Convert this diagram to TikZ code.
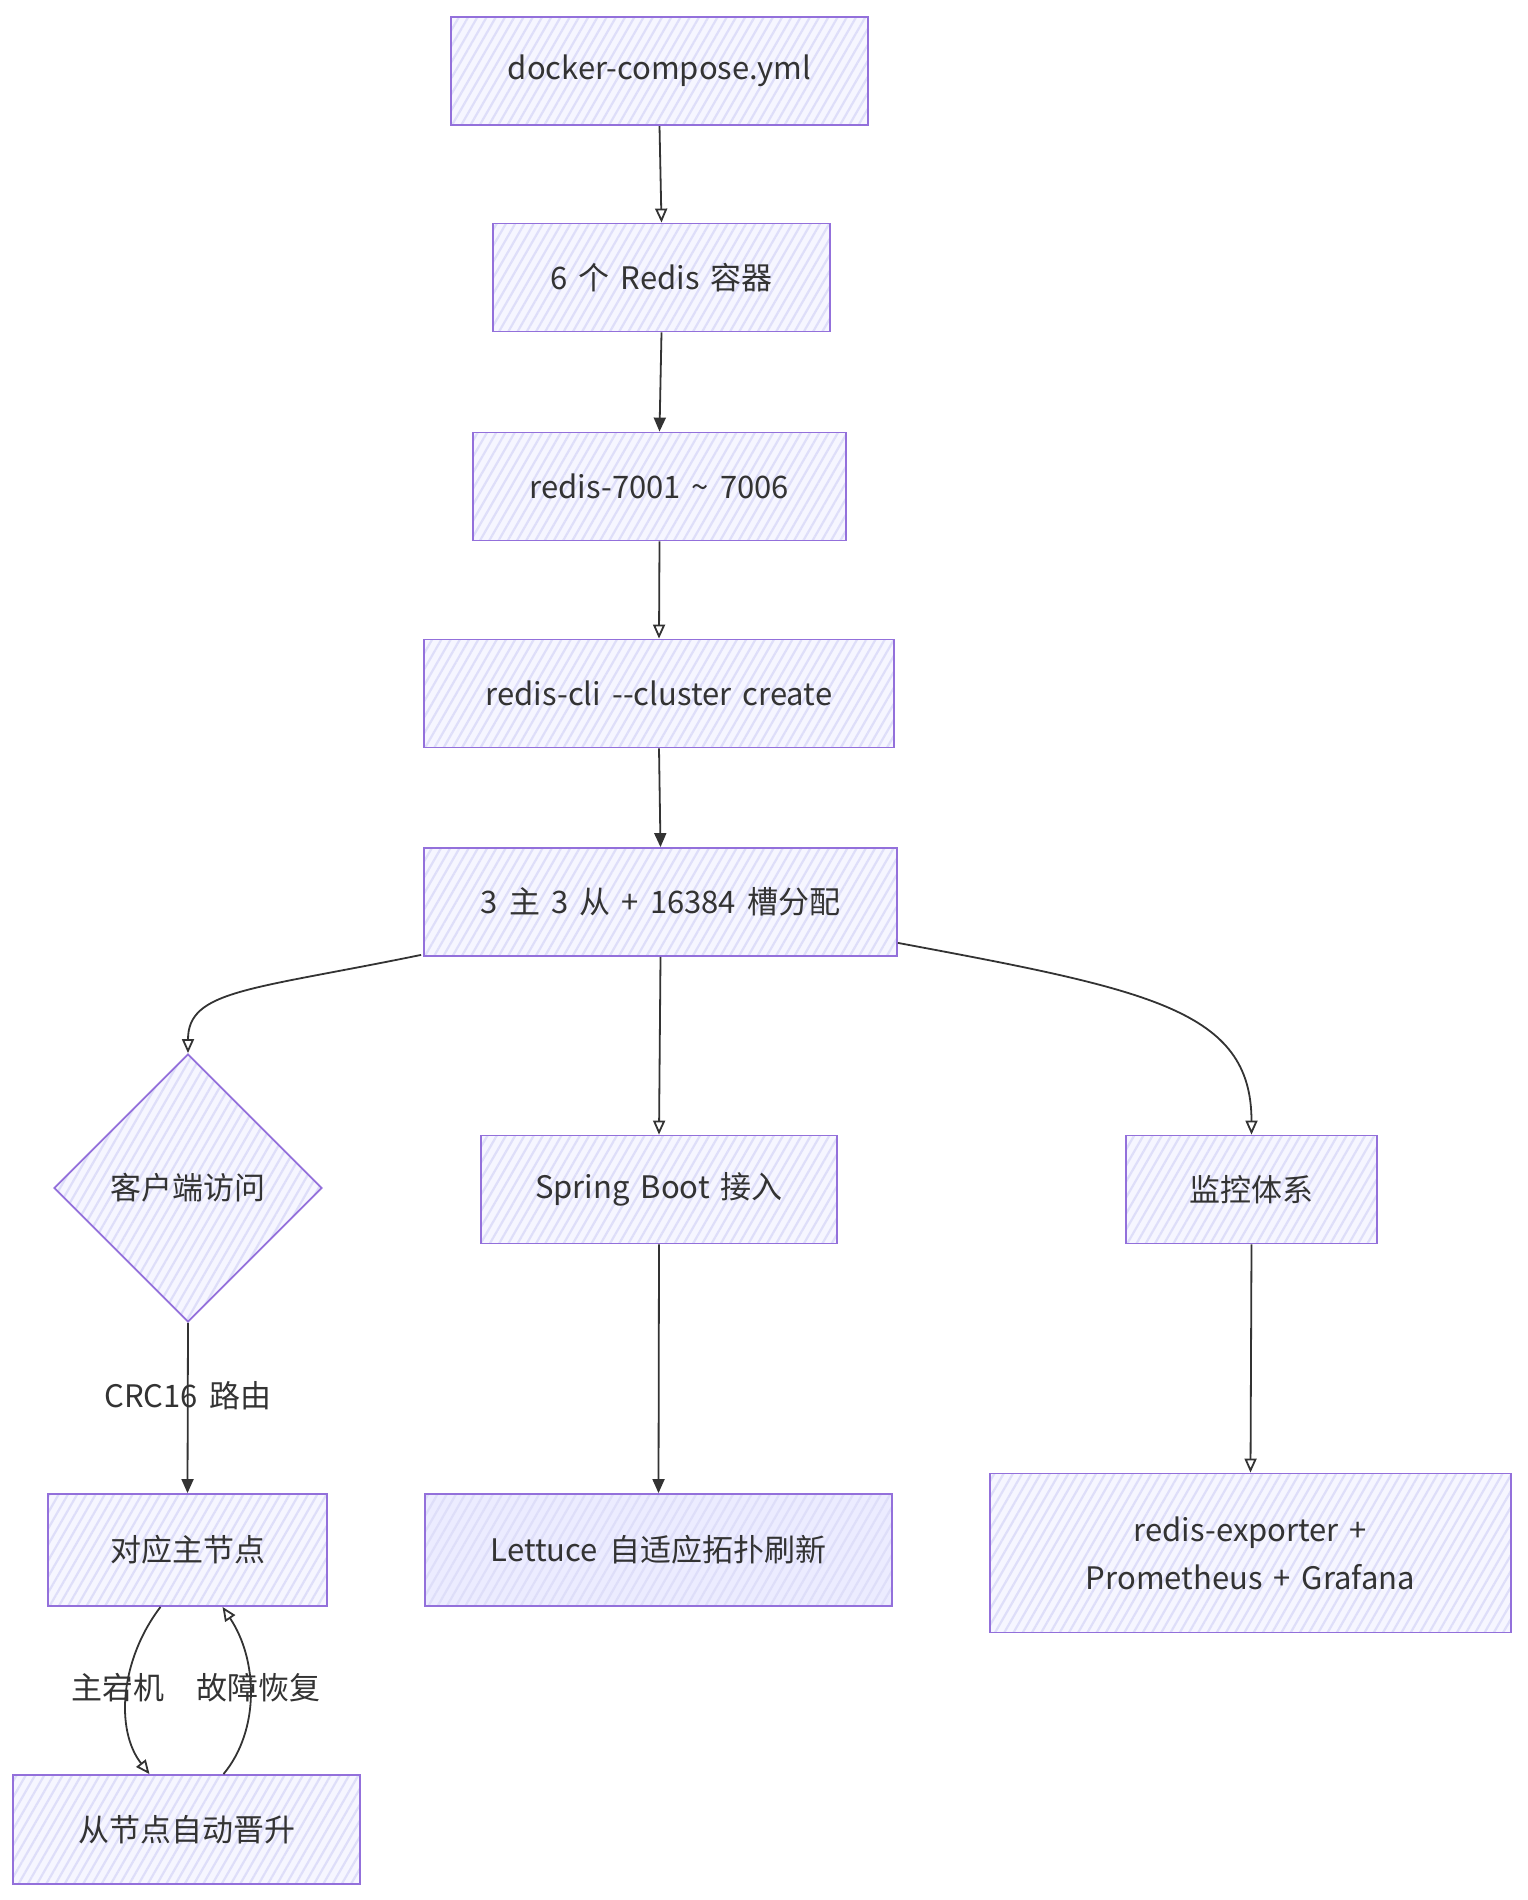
\documentclass[tikz,border=0pt]{standalone}
\usepackage{fontspec}
\setmainfont[WordSpace=1.6]{Noto Sans CJK SC}
\usetikzlibrary{arrows.meta,shapes.geometric,patterns.meta,calc}
\definecolor{lav}{HTML}{ECECFF}
\definecolor{hatch}{HTML}{DEDEF9}
\definecolor{strk}{HTML}{9370DB}
\definecolor{ink}{HTML}{333333}
\begin{document}
\begin{tikzpicture}[x=1pt,y=-1pt,
  font=\fontsize{31}{48}\selectfont,
  box/.style={draw=strk, line width=1.8pt, preaction={fill=lav!45},
    pattern={Lines[angle=60,distance=8pt,line width=2.2pt]}, pattern color=hatch,
    text=ink, minimum height=108pt, inner sep=0pt, align=center},
  dia/.style={box, shape=diamond, aspect=1, minimum width=268pt, minimum height=268pt},
  arr/.style={draw=ink, line width=1.8pt, -{Triangle[open,length=14pt,width=12pt]}},
  arrf/.style={draw=ink, line width=1.8pt, -{Triangle[length=14pt,width=12pt]}},
  lbl/.style={text=ink, inner sep=2pt}
]
\useasboundingbox (0,0) rectangle (1527,1900);

\node[box, minimum width=417pt] (dc) at (659.5,71) {docker-compose.yml};
\node[box, minimum width=337pt] (six) at (661.5,277.5) {6 个 Redis 容器};
\node[box, minimum width=373pt] (rn) at (659.5,486.5) {redis-7001 \textasciitilde{} 7006};
\node[box, minimum width=470pt] (cli) at (659,693.5) {redis-cli -{}-cluster create};
\node[box, minimum width=473pt] (ms) at (660.5,902) {3 主 3 从 + 16384 槽分配};
\node[dia] (cl) at (188,1188) {客户端访问};
\node[box, minimum width=356pt] (sb) at (659,1189.5) {Spring Boot 接入};
\node[box, minimum width=251pt] (mon) at (1251.5,1189.5) {监控体系};
\node[box, minimum width=279pt, minimum height=112pt] (mn) at (187.5,1550) {对应主节点};
\node[box, minimum width=467pt, minimum height=112pt, preaction={fill=lav}] (lt) at (658.5,1550) {Lettuce 自适应拓扑刷新};
\node[box, minimum width=521pt, minimum height=159pt] (ex) at (1250.5,1553) {redis-exporter +\\Prometheus + Grafana};
\node[box, minimum width=347pt, minimum height=109pt] (sl) at (186.5,1829.5) {从节点自动晋升};

\draw[arr] (dc.south) -- (six.north);
\draw[arrf] (six.south) -- (rn.north);
\draw[arr] (rn.south) -- (cli.north);
\draw[arrf] (cli.south) -- (ms.north);
\draw[arr] ($(ms.south west)+(-2,-2)$) .. controls (250,990) and (188,990) .. (cl.north);
\draw[arr] (ms.south) -- (sb.north);
\draw[arr] ($(ms.south east)+(0,-14)$) .. controls (1150,990) and (1251.5,1010) .. (mon.north);
\draw[arrf] (cl.south) -- node[lbl, pos=0.43] (l1) {CRC16 路由} (mn.north);
\draw[arrf] (sb.south) -- (lt.north);
\draw[arr] (mon.south) -- (ex.north);
\coordinate (m1) at ($(mn.south)+(-27,0)$);
\coordinate (s1) at ($(sl.north)+(-37,0)$);
\coordinate (s2) at ($(sl.north)+(37,0)$);
\coordinate (m2) at ($(mn.south)+(35,0)$);
\draw[arr] (m1) .. controls (120,1660) and (115,1730) .. (s1);
\draw[arr] (s2) .. controls (260,1730) and (258,1660) .. (m2);
\node[lbl] (l2) at (118,1688) {主宕机};
\node[lbl] (l3) at (258,1688) {故障恢复};
\end{tikzpicture}
\end{document}
